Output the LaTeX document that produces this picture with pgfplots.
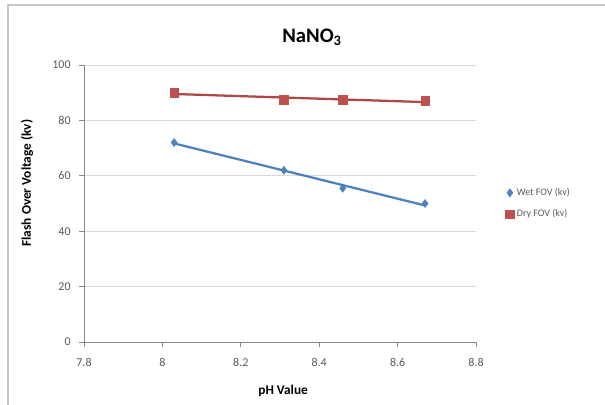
\documentclass[border=0pt]{standalone}
\usepackage{pgfplots}
\usepackage{pgfplotstable}
\pgfplotsset{compat=1.18}
\usepackage{fontspec}
\setmainfont{Carlito}
\definecolor{wet}{HTML}{4F81BD}
\definecolor{dry}{HTML}{C0504D}
\definecolor{axgray}{HTML}{868686}
\definecolor{gridgray}{HTML}{D9D9D9}
\definecolor{txt}{HTML}{595959}
\pgfplotstableread{
ph wet dry
8.03 72 90
8.31 62 87.5
8.46 55.5 87.5
8.67 50 87
}\data
\begin{document}
\begin{tikzpicture}
\useasboundingbox (-63pt,-46.5pt) rectangle (390.75pt,256.5pt);
\draw[black!22, line width=1.6pt] (-57pt,-60pt) -- (-57pt,252.75pt) -- (420pt,252.75pt);
\begin{axis}[
  at={(0,0)}, anchor=south west,
  scale only axis, width=294pt, height=207.75pt,
  xmin=7.8, xmax=8.8, ymin=0, ymax=100,
  xtick={7.8,8,...,8.8}, ytick={0,20,...,100},
  /pgf/number format/assume math mode=true,
  xticklabel style={/pgf/number format/fixed, /pgf/number format/precision=1, yshift=-5pt},
  yticklabel style={xshift=-3pt},
  tick label style={font=\fontsize{9}{11}\selectfont, text=txt},
  ymajorgrids, grid style={gridgray, line width=0.6pt},
  axis x line*=bottom, axis y line*=left,
  axis line style={axgray, line width=0.6pt, -},
  tick align=outside, major tick length=3.5pt,
  tick style={axgray, line width=0.6pt},
  xtick pos=bottom, ytick pos=left,
  xlabel={\bfseries pH Value}, ylabel={\bfseries Flash Over Voltage (kv)},
  label style={font=\fontsize{8.5}{10}\selectfont, text=black!80},
  every axis x label/.style={at={(axis description cs:0.508,-0.177)},anchor=center},
  every axis y label/.style={at={(axis description cs:-0.145,0.574)},rotate=90,anchor=center},
  legend style={at={(axis description cs:1.075,0.5)}, anchor=west, draw=none, fill=none,
    font=\fontsize{7.5}{9}\selectfont, text=txt, row sep=5pt, inner sep=0pt,
    /tikz/every even column/.append style={column sep=1pt}},
  legend cell align=left,
  legend image code/.code={\draw[#1] plot coordinates {(0pt,0pt)};},
  clip=false,
]
\addplot[only marks, mark=diamond*, color=wet, mark size=3pt] table[x=ph,y=wet]{\data};
\addlegendentry{Wet FOV (kv)}
\addplot[only marks, mark=square*, color=dry, mark size=3.2pt] table[x=ph,y=dry]{\data};
\addlegendentry{Dry FOV (kv)}
\addplot[wet, line width=1.7pt, forget plot] table[x=ph, y={create col/linear regression={y=wet}}]{\data};
\addplot[dry!90!black, line width=1.7pt, forget plot] table[x=ph, y={create col/linear regression={y=dry}}]{\data};
\end{axis}
\node[font=\bfseries\fontsize{15.5}{18}\selectfont] at (171pt,228.75pt) {NaNO\textsubscript{3}};
\end{tikzpicture}
\end{document}
